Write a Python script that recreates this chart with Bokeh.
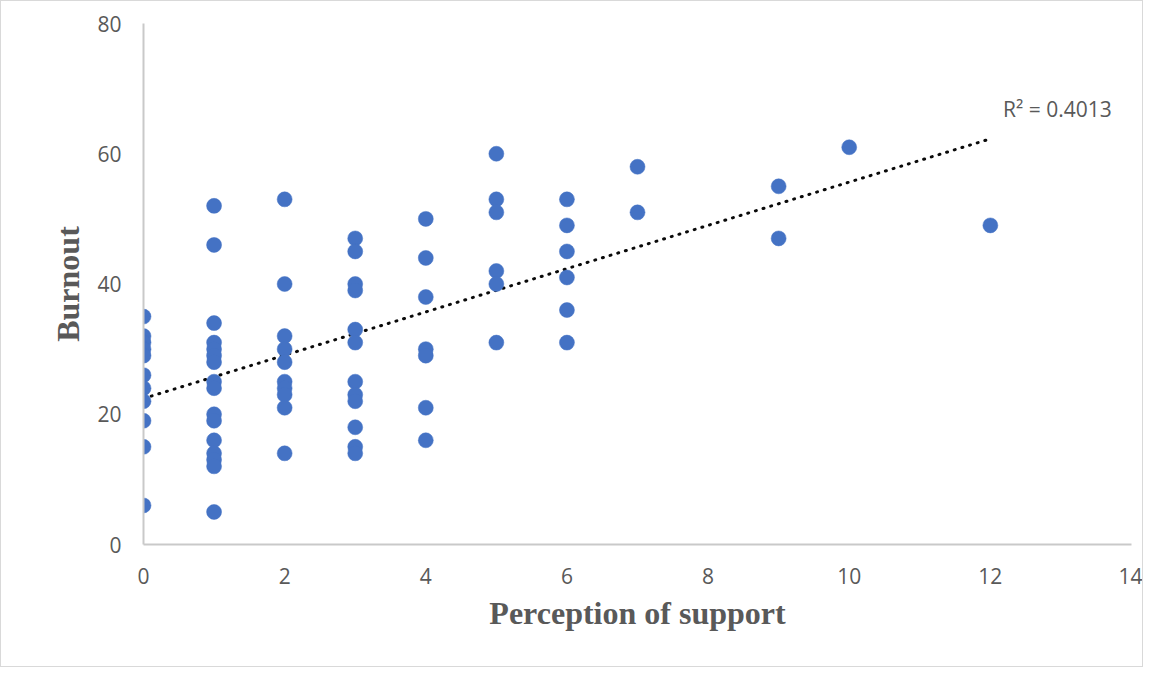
import numpy as np
from bokeh.plotting import figure
from bokeh.models import Range1d, FixedTicker, Label
from bokeh.embed import file_html
from bokeh.resources import INLINE

# Data (Perception of support -> Burnout)
support_0 = [35, 32, 31, 30, 29, 26, 24, 22, 19, 15, 6]
support_1 = [52, 46, 34, 31, 30, 29, 28, 25, 24, 20, 19, 16, 14, 13, 12, 5]
support_2 = [53, 40, 32, 30, 28, 25, 24, 23, 21, 14]
support_3 = [47, 45, 40, 39, 33, 31, 25, 23, 22, 18, 15, 14]
support_4 = [50, 44, 38, 30, 29, 21, 16]
support_5 = [60, 53, 51, 42, 40, 31]
support_6 = [53, 49, 45, 41, 36, 31]
support_7 = [58, 51]
support_9 = [55, 47]
support_10 = [61]
support_12 = [49]

groups = {0: support_0, 1: support_1, 2: support_2, 3: support_3, 4: support_4,
          5: support_5, 6: support_6, 7: support_7, 9: support_9, 10: support_10,
          12: support_12}

x_ticks = [0, 2, 4, 6, 8, 10, 12, 14]
y_ticks = [0, 20, 40, 60, 80]
r2_text = "R\u00b2 = 0.4013"

xs, ys = [], []
for k, vals in groups.items():
    xs += [k] * len(vals)
    ys += vals
xs = np.array(xs, dtype=float)
ys = np.array(ys, dtype=float)
slope, intercept = np.polyfit(xs, ys, 1)
tx = np.array([xs.min(), xs.max()])
ty = slope * tx + intercept

GRAY = "#595959"
p = figure(width=1143, height=667, output_backend="svg", toolbar_location=None,
           x_range=Range1d(0, 14), y_range=Range1d(0, 80),
           min_border_left=142, min_border_right=13, min_border_top=22,
           min_border_bottom=124)
p.outline_line_color = None
p.xgrid.visible = False
p.ygrid.visible = False
p.styles = {"border": "1px solid #d9d9d9"}

for ax in (p.xaxis[0], p.yaxis[0]):
    ax.axis_line_color = "#c9c9c9"
    ax.axis_line_width = 2
    ax.major_tick_line_color = None
    ax.minor_tick_line_color = None
    ax.major_tick_out = 0
    ax.major_tick_in = 0
    ax.major_label_text_font = "Open Sans"
    ax.major_label_text_font_size = "21px"
    ax.major_label_text_color = GRAY
    ax.axis_label_text_font = "Liberation Serif"
    ax.axis_label_text_font_size = "32px"
    ax.axis_label_text_font_style = "bold"
    ax.axis_label_text_color = GRAY

p.xaxis.ticker = FixedTicker(ticks=x_ticks)
p.yaxis.ticker = FixedTicker(ticks=y_ticks)
p.xaxis.major_label_standoff = 23
p.yaxis.major_label_standoff = 22
p.xaxis.axis_label = "Perception of support"
p.yaxis.axis_label = "Burnout"
p.xaxis.axis_label_standoff = 8
p.yaxis.axis_label_standoff = 8

p.line(tx, ty, line_color="#0a0a0a", line_width=3, line_dash="1 7", line_cap="round")
p.scatter(xs, ys, size=15, fill_color="#4472C4", line_color="#4472C4", line_width=0.5)

p.add_layout(Label(x=12.18, y=66.9, text=r2_text, text_font="Open Sans",
                   text_font_size="21px", text_color=GRAY, text_baseline="middle",
                   text_align="left"))

open("out.html", "w").write(file_html(p, INLINE))
